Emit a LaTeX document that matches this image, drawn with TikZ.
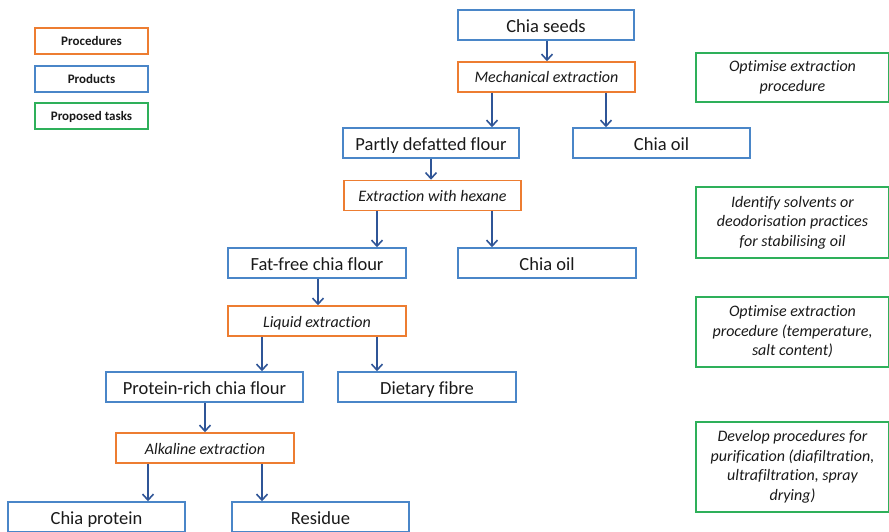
\documentclass[tikz,border=0pt]{standalone}
\usepackage{fontspec}
\setmainfont{Carlito}[Ligatures=NoCommon]
\usetikzlibrary{arrows.meta}
\definecolor{procC}{HTML}{ED7D31}
\definecolor{prodC}{HTML}{4A86C8}
\definecolor{taskC}{HTML}{2EB05A}
\definecolor{arrC}{HTML}{2F5597}
\definecolor{txtC}{HTML}{1A1A1A}
\tikzset{
  base/.style={rectangle, draw, line width=1.5pt, inner sep=0pt, text=txtC, align=center, fill=white},
  prod/.style={base, draw=prodC, minimum height=30pt, text height=15pt, text depth=0pt, font=\fontsize{18.5}{21}\selectfont},
  proc/.style={base, draw=procC, minimum height=30pt, text height=12pt, text depth=0pt, font=\fontsize{16}{18}\selectfont\itshape},
  task/.style={base, draw=taskC, minimum width=193pt, font=\fontsize{16}{19.5}\selectfont\itshape},
  leg/.style={base, minimum width=113pt, minimum height=26pt, text height=10pt, text depth=0pt, font=\fontsize{13}{15}\selectfont\bfseries},
  arr/.style={draw=arrC, line width=1.6pt, -{Straight Barb[length=6pt,width=11pt,line width=1.6pt]}}
}
\begin{document}
\begin{tikzpicture}[x=1pt,y=-1pt]
\useasboundingbox (0,0) rectangle (889,532);
% legend
\node[leg, draw=procC] (lproc) at (91.5,41) {Procedures};
\node[leg, draw=prodC] (lprod) at (91.5,79) {Products};
\node[leg, draw=taskC] (ltask) at (91.5,116) {Proposed tasks};
% flow
\node[prod, minimum width=176pt] (seeds) at (546,25) {Chia seeds};
\node[proc, minimum width=177pt] (mech) at (546.5,77) {Mechanical extraction};
\node[prod, minimum width=176pt] (pdf) at (431,143) {Partly defatted flour};
\node[prod, minimum width=177pt] (oil1) at (661.5,143) {Chia oil};
\node[proc, minimum width=177pt] (hex) at (432.5,195.5) {Extraction with hexane};
\node[prod, minimum width=178pt] (ffree) at (317,263) {Fat-free chia flour};
\node[prod, minimum width=178pt] (oil2) at (547,263) {Chia oil};
\node[proc, minimum width=178pt] (liq) at (317,321) {Liquid extraction};
\node[prod, minimum width=197pt] (prot) at (204.5,387) {Protein-rich chia flour};
\node[prod, minimum width=178pt] (fibre) at (427,387) {Dietary fibre};
\node[proc, minimum width=178pt] (alk) at (205,448) {Alkaline extraction};
\node[prod, minimum width=177pt] (chiap) at (96.5,517) {Chia protein};
\node[prod, minimum width=177pt] (resid) at (320.5,517) {Residue};
% tasks
\node[task, minimum height=49pt] (t1) at (792.5,77.5) {Optimise extraction\\procedure};
\node[task, minimum height=71pt] (t2) at (792.5,222.5) {Identify solvents or\\deodorisation practices\\for stabilising oil};
\node[task, minimum height=70pt] (t3) at (792.5,332) {Optimise extraction\\procedure (temperature,\\salt content)};
\node[task, minimum height=90pt] (t4) at (792.5,467) {Develop procedures for\\purification (diafiltration,\\ultrafiltration, spray\\drying)};
% arrows
\draw[arr] (seeds.south -| 547,0) -- (mech.north -| 547,0);
\draw[arr] (mech.south -| 492,0) -- (pdf.north -| 492,0);
\draw[arr] (mech.south -| 606,0) -- (oil1.north -| 606,0);
\draw[arr] (pdf.south -| 431,0) -- (hex.north -| 431,0);
\draw[arr] (hex.south -| 377,0) -- (ffree.north -| 377,0);
\draw[arr] (hex.south -| 492,0) -- (oil2.north -| 492,0);
\draw[arr] (ffree.south -| 318,0) -- (liq.north -| 318,0);
\draw[arr] (liq.south -| 262,0) -- (prot.north -| 262,0);
\draw[arr] (liq.south -| 377,0) -- (fibre.north -| 377,0);
\draw[arr] (prot.south -| 205,0) -- (alk.north -| 205,0);
\draw[arr] (alk.south -| 148,0) -- (chiap.north -| 148,0);
\draw[arr] (alk.south -| 262,0) -- (resid.north -| 262,0);
\end{tikzpicture}
\end{document}
